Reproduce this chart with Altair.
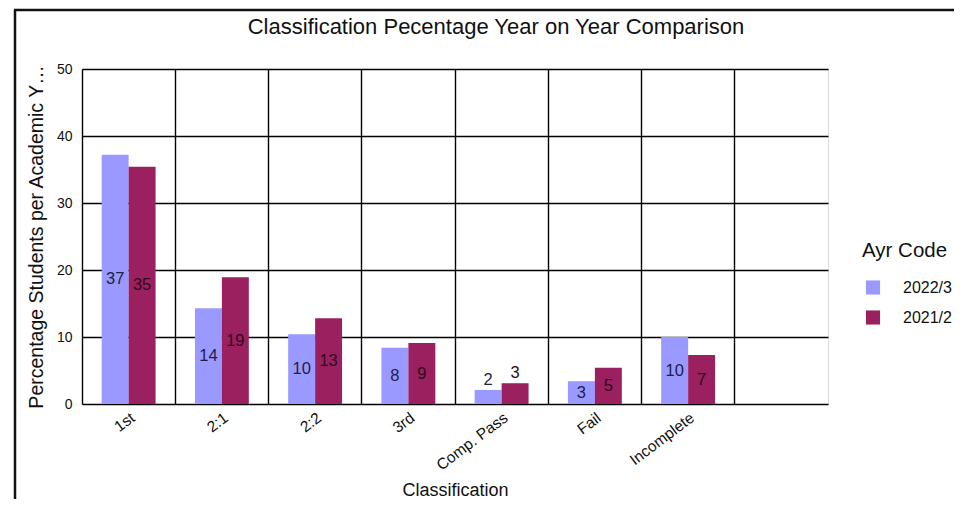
import altair as alt
import pandas as pd

categories = ["1st", "2:1", "2:2", "3rd", "Comp. Pass", "Fail", "Incomplete"]
series_names = ["2022/3", "2021/2"]
values_2022_3 = [37.2, 14.3, 10.4, 8.4, 2.1, 3.4, 10.0]
values_2021_2 = [35.4, 18.9, 12.8, 9.1, 3.1, 5.4, 7.3]
bar_colors = ["#9999ff", "#9a2060"]
label_colors = ["#1e1e46", "#2e0a1c"]

rows = []
for c, a, b in zip(categories, values_2022_3, values_2021_2):
    rows.append({"Classification": c, "Ayr Code": series_names[0], "value": a})
    rows.append({"Classification": c, "Ayr Code": series_names[1], "value": b})
df = pd.DataFrame(rows)

x_domain = categories + [" "]
FONT = "Liberation Sans"

x_enc = alt.X(
    "Classification:N",
    scale=alt.Scale(domain=x_domain, paddingInner=0, paddingOuter=0),
    sort=x_domain,
    axis=alt.Axis(
        title="Classification",
        labelAngle=-37,
        labelFontSize=15.5,
        labelColor="#111",
        labelFont=FONT,
        ticks=False,
        domain=False,
        grid=True,
        bandPosition=0,
        gridColor="#000",
        gridWidth=1.4,
        gridOpacity=1,
        labelPadding=6,
        titleFontSize=18,
        titleFont=FONT,
        titleFontWeight="normal",
        titleColor="#111",
        titleY=86,
        titleBaseline="middle",
    ),
)

xoff = alt.XOffset(
    "Ayr Code:N",
    sort=series_names,
    scale=alt.Scale(domain=series_names, paddingInner=0, paddingOuter=0.73),
)

y_enc = alt.Y(
    "value:Q",
    scale=alt.Scale(domain=[0, 50], nice=False),
    axis=alt.Axis(
        title="Percentage Students per Academic Y…",
        values=[0, 10, 20, 30, 40, 50],
        ticks=False,
        domain=False,
        grid=True,
        gridColor="#000",
        gridWidth=1.4,
        gridOpacity=1,
        labelFontSize=14,
        labelFont=FONT,
        labelColor="#111",
        labelPadding=10,
        titleFontSize=19.5,
        titleFont=FONT,
        titleFontWeight="normal",
        titleColor="#111",
        titlePadding=10,
    ),
)

base = alt.Chart(df)

bars = base.mark_bar(strokeWidth=0).encode(
    x=x_enc,
    xOffset=xoff,
    y=y_enc,
    color=alt.Color(
        "Ayr Code:N",
        sort=series_names,
        scale=alt.Scale(domain=series_names, range=bar_colors),
        legend=alt.Legend(
            title="Ayr Code",
            orient="none",
            legendX=780,
            legendY=172,
            titleFontSize=20.5,
            titleFont=FONT,
            titleFontWeight="normal",
            titleColor="#111",
            titlePadding=18,
            labelFontSize=16,
            labelFont=FONT,
            labelColor="#111",
            labelOffset=22,
            symbolType="square",
            symbolSize=200,
            symbolStrokeWidth=0,
            symbolOffset=3,
            rowPadding=14,
        ),
    ),
)

label_color_expr = (
    f"datum['Ayr Code'] == '{series_names[0]}' ? '{label_colors[0]}' : '{label_colors[1]}'"
)

labels_mid = (
    base.transform_filter("datum.value >= 3.3")
    .transform_calculate(mid="datum.value / 2", lbl="format(round(datum.value), 'd')",
                         tcol=label_color_expr)
    .mark_text(fontSize=16.5, font=FONT, baseline="middle")
    .encode(
        x=alt.X("Classification:N", scale=alt.Scale(domain=x_domain), sort=x_domain),
        xOffset=alt.XOffset("Ayr Code:N", sort=series_names),
        y=alt.Y("mid:Q"),
        text="lbl:N",
        color=alt.Color("tcol:N", scale=None),
    )
)

labels_top = (
    base.transform_filter("datum.value < 3.3")
    .transform_calculate(lbl="format(round(datum.value), 'd')", tcol=label_color_expr)
    .mark_text(fontSize=16.5, font=FONT, baseline="bottom", dy=-2)
    .encode(
        x=alt.X("Classification:N", scale=alt.Scale(domain=x_domain), sort=x_domain),
        xOffset=alt.XOffset("Ayr Code:N", sort=series_names),
        y=alt.Y("value:Q"),
        text="lbl:N",
        color=alt.Color("tcol:N", scale=None),
    )
)

# decorative panel border (top and left edges of the frame)
border_left = alt.Chart(pd.DataFrame({"k": [0]})).mark_rule(color="#111", strokeWidth=2.5).encode(
    x=alt.value(-67), y=alt.value(-59), y2=alt.value(435)
)
border_top = alt.Chart(pd.DataFrame({"k": [0]})).mark_rule(color="#111", strokeWidth=2.5).encode(
    x=alt.value(-68), x2=alt.value(872), y=alt.value(-59)
)

chart = (
    alt.layer(bars, labels_mid, labels_top, border_left, border_top)
    .properties(
        width=746,
        height=335,
        autosize=alt.AutoSizeParams(type="none"),
        padding={"left": 74, "top": 61, "right": 134, "bottom": 95},
        title=alt.TitleParams(
            "Classification Pecentage Year on Year Comparison",
            fontSize=22,
            font=FONT,
            fontWeight="normal",
            color="#111",
            anchor="middle",
            dx=41,
            dy=30,
            offset=0,
        ),
    )
    .configure_view(stroke="#000", strokeWidth=1.6)
    .configure(background="white")
)

chart.save("out.html", embed_options={"renderer": "svg", "actions": False})
